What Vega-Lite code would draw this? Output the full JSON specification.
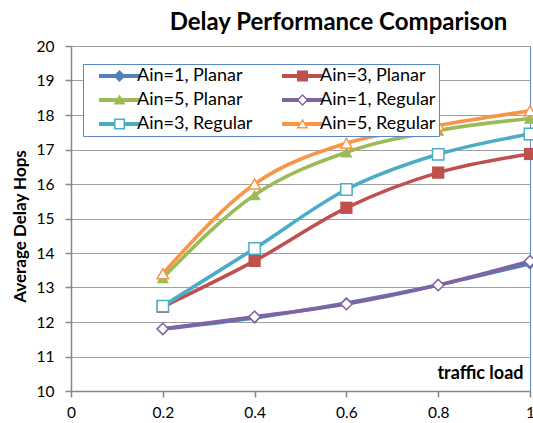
{
  "$schema": "https://vega.github.io/schema/vega-lite/v6.json",
  "width": 459,
  "height": 345,
  "autosize": {"type": "none"},
  "padding": {"left": 71, "top": 46, "right": 3, "bottom": 32},
  "background": "white",
  "config": {
    "font": "Lato",
    "view": {"stroke": "#5B87C5", "strokeWidth": 1},
    "legend": {
      "orient": "none",
      "legendX": 12,
      "legendY": 18,
      "columns": 2,
      "direction": "horizontal",
      "padding": 3,
      "strokeColor": "#5B87C5",
      "fillColor": "#FFFFFF",
      "symbolSize": 100,
      "symbolOffset": 24.5,
      "labelOffset": 8.5,
      "labelFontSize": 18,
      "labelColor": "#000000",
      "rowPadding": 6,
      "columnPadding": 16
    }
  },
  "title": {
    "text": "Delay Performance Comparison",
    "fontSize": 24,
    "fontWeight": "bold",
    "font": "Lato",
    "color": "#000000",
    "anchor": "middle",
    "frame": "group",
    "dx": 38,
    "dy": 15,
    "baseline": "alphabetic",
    "offset": 0
  },
  "data": {
    "values": [
      {"load": 0.2, "hops": 11.8, "ain": "Ain=1", "topology": "Planar", "series": "Ain=1, Planar"},
      {"load": 0.4, "hops": 12.12, "ain": "Ain=1", "topology": "Planar", "series": "Ain=1, Planar"},
      {"load": 0.6, "hops": 12.55, "ain": "Ain=1", "topology": "Planar", "series": "Ain=1, Planar"},
      {"load": 0.8, "hops": 13.07, "ain": "Ain=1", "topology": "Planar", "series": "Ain=1, Planar"},
      {"load": 1.0, "hops": 13.69, "ain": "Ain=1", "topology": "Planar", "series": "Ain=1, Planar"},
      {"load": 0.2, "hops": 12.44, "ain": "Ain=3", "topology": "Planar", "series": "Ain=3, Planar"},
      {"load": 0.4, "hops": 13.77, "ain": "Ain=3", "topology": "Planar", "series": "Ain=3, Planar"},
      {"load": 0.6, "hops": 15.31, "ain": "Ain=3", "topology": "Planar", "series": "Ain=3, Planar"},
      {"load": 0.8, "hops": 16.33, "ain": "Ain=3", "topology": "Planar", "series": "Ain=3, Planar"},
      {"load": 1.0, "hops": 16.87, "ain": "Ain=3", "topology": "Planar", "series": "Ain=3, Planar"},
      {"load": 0.2, "hops": 13.28, "ain": "Ain=5", "topology": "Planar", "series": "Ain=5, Planar"},
      {"load": 0.4, "hops": 15.68, "ain": "Ain=5", "topology": "Planar", "series": "Ain=5, Planar"},
      {"load": 0.6, "hops": 16.92, "ain": "Ain=5", "topology": "Planar", "series": "Ain=5, Planar"},
      {"load": 0.8, "hops": 17.55, "ain": "Ain=5", "topology": "Planar", "series": "Ain=5, Planar"},
      {"load": 1.0, "hops": 17.9, "ain": "Ain=5", "topology": "Planar", "series": "Ain=5, Planar"},
      {"load": 0.2, "hops": 11.8, "ain": "Ain=1", "topology": "Regular", "series": "Ain=1, Regular"},
      {"load": 0.4, "hops": 12.15, "ain": "Ain=1", "topology": "Regular", "series": "Ain=1, Regular"},
      {"load": 0.6, "hops": 12.52, "ain": "Ain=1", "topology": "Regular", "series": "Ain=1, Regular"},
      {"load": 0.8, "hops": 13.07, "ain": "Ain=1", "topology": "Regular", "series": "Ain=1, Regular"},
      {"load": 1.0, "hops": 13.76, "ain": "Ain=1", "topology": "Regular", "series": "Ain=1, Regular"},
      {"load": 0.2, "hops": 12.46, "ain": "Ain=3", "topology": "Regular", "series": "Ain=3, Regular"},
      {"load": 0.4, "hops": 14.13, "ain": "Ain=3", "topology": "Regular", "series": "Ain=3, Regular"},
      {"load": 0.6, "hops": 15.84, "ain": "Ain=3", "topology": "Regular", "series": "Ain=3, Regular"},
      {"load": 0.8, "hops": 16.86, "ain": "Ain=3", "topology": "Regular", "series": "Ain=3, Regular"},
      {"load": 1.0, "hops": 17.45, "ain": "Ain=3", "topology": "Regular", "series": "Ain=3, Regular"},
      {"load": 0.2, "hops": 13.4, "ain": "Ain=5", "topology": "Regular", "series": "Ain=5, Regular"},
      {"load": 0.4, "hops": 16.0, "ain": "Ain=5", "topology": "Regular", "series": "Ain=5, Regular"},
      {"load": 0.6, "hops": 17.18, "ain": "Ain=5", "topology": "Regular", "series": "Ain=5, Regular"},
      {"load": 0.8, "hops": 17.7, "ain": "Ain=5", "topology": "Regular", "series": "Ain=5, Regular"},
      {"load": 1.0, "hops": 18.12, "ain": "Ain=5", "topology": "Regular", "series": "Ain=5, Regular"}
    ]
  },
  "encoding": {
    "x": {
      "field": "load",
      "type": "quantitative",
      "scale": {"domain": [0, 1], "nice": false, "zero": false},
      "axis": {
        "values": [0, 0.2, 0.4, 0.6, 0.8, 1],
        "format": ".1~f",
        "grid": false,
        "domainColor": "#868686",
        "domainWidth": 1.5,
        "tickColor": "#868686",
        "tickWidth": 1.5,
        "tickSize": 6,
        "labelFontSize": 15.5,
        "labelColor": "#000000",
        "labelPadding": 8,
        "labelFlush": false,
        "title": "traffic load",
        "titleFontSize": 18,
        "titleFontWeight": "bold",
        "titleColor": "#000000",
        "titleX": 452,
        "titleY": -13,
        "titleAlign": "right",
        "titleBaseline": "alphabetic",
        "titleAngle": 0
      }
    },
    "y": {
      "field": "hops",
      "type": "quantitative",
      "scale": {"domain": [10, 20], "nice": false, "zero": false},
      "axis": {
        "values": [10, 11, 12, 13, 14, 15, 16, 17, 18, 19, 20],
        "grid": true,
        "gridColor": "#A0A0A0",
        "gridWidth": 1.2,
        "domainColor": "#868686",
        "domainWidth": 1.5,
        "tickColor": "#868686",
        "tickWidth": 1.5,
        "tickSize": 6,
        "labelFontSize": 15.5,
        "labelColor": "#000000",
        "labelPadding": 11,
        "title": "Average Delay Hops",
        "titleFontSize": 17,
        "titleFontWeight": "bold",
        "titleColor": "#000000",
        "titleX": -51,
        "titleY": 180,
        "titleAngle": -90,
        "titleAlign": "center",
        "titleBaseline": "middle"
      }
    },
    "color": {
      "field": "series",
      "type": "nominal",
      "scale": {
        "domain": ["Ain=1, Planar", "Ain=3, Planar", "Ain=5, Planar", "Ain=1, Regular", "Ain=3, Regular", "Ain=5, Regular"],
        "range": ["#4F81BD", "#C0504D", "#9BBB59", "#8064A2", "#4BACC6", "#F79646"]
      },
      "legend": {
        "title": null,
        "labelExpr": "datum.label + '\u00a0'",
        "encode": {
          "symbols": {
            "update": {
              "shape": {"signal": "['M-4.1,-0.4H4.1V0.4H-4.1Z M0,-1.2L1.2,0L0,1.2L-1.2,0Z', 'M-4.1,-0.4H4.1V0.4H-4.1Z M-1.1,-1.1H1.1V1.1H-1.1Z', 'M-4.1,-0.4H4.1V0.4H-4.1Z M0,-1.1L1.2,0.9L-1.2,0.9Z', 'M-4.1,-0.4H-0.79V0.4H-4.1Z M0.79,-0.4H4.1V0.4H0.79Z M0,-1.2L1.2,0L0,1.2L-1.2,0Z M0,-0.78L-0.78,0L0,0.78L0.78,0Z', 'M-4.1,-0.4H-0.8V0.4H-4.1Z M0.8,-0.4H4.1V0.4H0.8Z M-1.1,-1.1H1.1V1.1H-1.1Z M-0.8,-0.8V0.8H0.8V-0.8Z', 'M-4.1,-0.4H-0.6V0.4H-4.1Z M0.6,-0.4H4.1V0.4H0.6Z M0,-1.1L1.2,0.9L-1.2,0.9Z M0,-0.52L-0.67,0.6L0.67,0.6Z'][indexof(['Ain=1, Planar', 'Ain=3, Planar', 'Ain=5, Planar', 'Ain=1, Regular', 'Ain=3, Regular', 'Ain=5, Regular'], datum.value)]"},
              "fill": {"signal": "['#4F81BD', '#C0504D', '#9BBB59', '#8064A2', '#4BACC6', '#F79646'][indexof(['Ain=1, Planar', 'Ain=3, Planar', 'Ain=5, Planar', 'Ain=1, Regular', 'Ain=3, Regular', 'Ain=5, Regular'], datum.value)]"},
              "strokeWidth": {"value": 0},
              "opacity": {"value": 1}
            }
          }
        }
      }
    }
  },
  "layer": [
    {
      "mark": {"type": "line", "interpolate": "monotone", "strokeWidth": 3.6}
    },
    {
      "transform": [{"filter": "datum.topology === 'Planar'"}],
      "mark": {"type": "point", "filled": true, "size": 150, "strokeWidth": 1.5, "opacity": 1},
      "encoding": {
        "shape": {
          "field": "ain",
          "type": "nominal",
          "scale": {"domain": ["Ain=1", "Ain=3", "Ain=5"], "range": ["diamond", "square", "triangle-up"]},
          "legend": null
        }
      }
    },
    {
      "transform": [{"filter": "datum.topology === 'Regular'"}],
      "mark": {"type": "point", "filled": false, "fill": "#FFFFFF", "size": 130, "strokeWidth": 1.5, "opacity": 1},
      "encoding": {
        "shape": {
          "field": "ain",
          "type": "nominal",
          "legend": null
        }
      }
    }
  ]
}
